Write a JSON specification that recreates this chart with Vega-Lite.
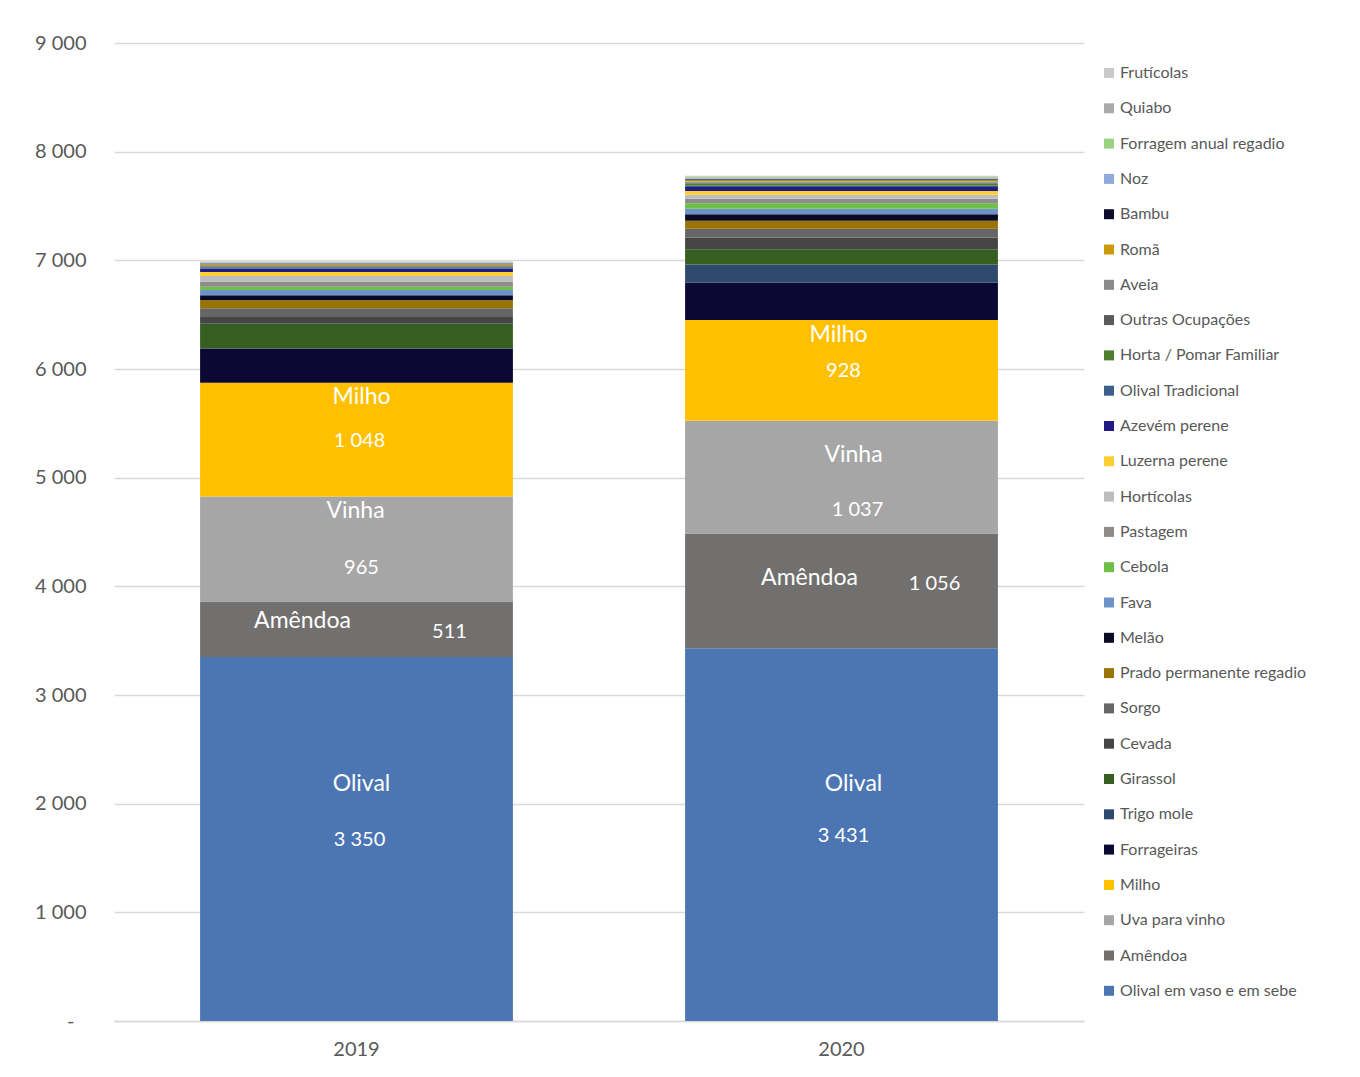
{
  "$schema": "https://vega.github.io/schema/vega-lite/v6.json",
  "width": 970,
  "height": 978,
  "autosize": {"type": "none"},
  "padding": {"left": 114, "top": 43, "right": 276, "bottom": 56},
  "background": "white",
  "config": {
    "view": {"stroke": null},
    "font": "Lato",
    "locale": {"number": {"decimal": ",", "thousands": " ", "grouping": [3], "currency": ["", " €"]}}
  },
  "data": {
    "values": [
      {"year": "2019", "crop": "Olival em vaso e em sebe", "ord": 1, "lbl": "Olival", "value": 3350},
      {"year": "2019", "crop": "Amêndoa", "ord": 2, "lbl": "Amêndoa", "value": 511},
      {"year": "2019", "crop": "Uva para vinho", "ord": 3, "lbl": "Vinha", "value": 965},
      {"year": "2019", "crop": "Milho", "ord": 4, "lbl": "Milho", "value": 1048},
      {"year": "2019", "crop": "Forrageiras", "ord": 5, "lbl": "", "value": 315},
      {"year": "2019", "crop": "Trigo mole", "ord": 6, "lbl": "", "value": 3},
      {"year": "2019", "crop": "Girassol", "ord": 7, "lbl": "", "value": 225},
      {"year": "2019", "crop": "Cevada", "ord": 8, "lbl": "", "value": 61},
      {"year": "2019", "crop": "Sorgo", "ord": 9, "lbl": "", "value": 80},
      {"year": "2019", "crop": "Prado permanente regadio", "ord": 10, "lbl": "", "value": 74},
      {"year": "2019", "crop": "Melão", "ord": 11, "lbl": "", "value": 46},
      {"year": "2019", "crop": "Fava", "ord": 12, "lbl": "", "value": 49},
      {"year": "2019", "crop": "Cebola", "ord": 13, "lbl": "", "value": 31},
      {"year": "2019", "crop": "Pastagem", "ord": 14, "lbl": "", "value": 46},
      {"year": "2019", "crop": "Hortícolas", "ord": 15, "lbl": "", "value": 52},
      {"year": "2019", "crop": "Luzerna perene", "ord": 16, "lbl": "", "value": 37},
      {"year": "2019", "crop": "Azevém perene", "ord": 17, "lbl": "", "value": 31},
      {"year": "2019", "crop": "Olival Tradicional", "ord": 18, "lbl": "", "value": 12},
      {"year": "2019", "crop": "Horta / Pomar Familiar", "ord": 19, "lbl": "", "value": 8},
      {"year": "2019", "crop": "Outras Ocupações", "ord": 20, "lbl": "", "value": 8},
      {"year": "2019", "crop": "Aveia", "ord": 21, "lbl": "", "value": 6},
      {"year": "2019", "crop": "Romã", "ord": 22, "lbl": "", "value": 8},
      {"year": "2019", "crop": "Bambu", "ord": 23, "lbl": "", "value": 5},
      {"year": "2019", "crop": "Noz", "ord": 24, "lbl": "", "value": 6},
      {"year": "2019", "crop": "Forragem anual regadio", "ord": 25, "lbl": "", "value": 5},
      {"year": "2019", "crop": "Quiabo", "ord": 26, "lbl": "", "value": 4},
      {"year": "2019", "crop": "Frutícolas", "ord": 27, "lbl": "", "value": 4},
      {"year": "2020", "crop": "Olival em vaso e em sebe", "ord": 1, "lbl": "Olival", "value": 3431},
      {"year": "2020", "crop": "Amêndoa", "ord": 2, "lbl": "Amêndoa", "value": 1056},
      {"year": "2020", "crop": "Uva para vinho", "ord": 3, "lbl": "Vinha", "value": 1037},
      {"year": "2020", "crop": "Milho", "ord": 4, "lbl": "Milho", "value": 928},
      {"year": "2020", "crop": "Forrageiras", "ord": 5, "lbl": "", "value": 344},
      {"year": "2020", "crop": "Trigo mole", "ord": 6, "lbl": "", "value": 166},
      {"year": "2020", "crop": "Girassol", "ord": 7, "lbl": "", "value": 141},
      {"year": "2020", "crop": "Cevada", "ord": 8, "lbl": "", "value": 107},
      {"year": "2020", "crop": "Sorgo", "ord": 9, "lbl": "", "value": 80},
      {"year": "2020", "crop": "Prado permanente regadio", "ord": 10, "lbl": "", "value": 74},
      {"year": "2020", "crop": "Melão", "ord": 11, "lbl": "", "value": 61},
      {"year": "2020", "crop": "Fava", "ord": 12, "lbl": "", "value": 49},
      {"year": "2020", "crop": "Cebola", "ord": 13, "lbl": "", "value": 52},
      {"year": "2020", "crop": "Pastagem", "ord": 14, "lbl": "", "value": 40},
      {"year": "2020", "crop": "Hortícolas", "ord": 15, "lbl": "", "value": 37},
      {"year": "2020", "crop": "Luzerna perene", "ord": 16, "lbl": "", "value": 34},
      {"year": "2020", "crop": "Azevém perene", "ord": 17, "lbl": "", "value": 37},
      {"year": "2020", "crop": "Olival Tradicional", "ord": 18, "lbl": "", "value": 12},
      {"year": "2020", "crop": "Horta / Pomar Familiar", "ord": 19, "lbl": "", "value": 20},
      {"year": "2020", "crop": "Outras Ocupações", "ord": 20, "lbl": "", "value": 10},
      {"year": "2020", "crop": "Aveia", "ord": 21, "lbl": "", "value": 10},
      {"year": "2020", "crop": "Romã", "ord": 22, "lbl": "", "value": 12},
      {"year": "2020", "crop": "Bambu", "ord": 23, "lbl": "", "value": 8},
      {"year": "2020", "crop": "Noz", "ord": 24, "lbl": "", "value": 10},
      {"year": "2020", "crop": "Forragem anual regadio", "ord": 25, "lbl": "", "value": 8},
      {"year": "2020", "crop": "Quiabo", "ord": 26, "lbl": "", "value": 8},
      {"year": "2020", "crop": "Frutícolas", "ord": 27, "lbl": "", "value": 7}
    ]
  },
  "layer": [
    {
      "mark": {"type": "bar"},
      "encoding": {
        "x": {
          "field": "year", "type": "nominal",
          "scale": {"paddingInner": 0.355, "paddingOuter": 0.1775},
          "axis": {"title": null, "labelAngle": 0, "labelFontSize": 20, "labelColor": "#595959", "ticks": false, "domainColor": "#D9D9D9", "domainWidth": 1.5, "labelPadding": 18}
        },
        "y": {
          "field": "value", "type": "quantitative", "stack": "zero",
          "scale": {"domain": [0, 9000], "nice": false},
          "axis": {"title": null, "values": [0, 1000, 2000, 3000, 4000, 5000, 6000, 7000, 8000, 9000], "gridColor": "#D9D9D9", "gridWidth": 1.5, "domain": false, "ticks": false, "labelFontSize": 20, "labelColor": "#595959", "labelPadding": {"condition": {"test": "datum.value == 0", "value": 40}, "value": 28}, "labelExpr": "datum.value == 0 ? '-' : format(datum.value, ',.0f')"}
        },
        "color": {
          "field": "crop", "type": "nominal",
          "scale": {
            "domain": ["Frutícolas", "Quiabo", "Forragem anual regadio", "Noz", "Bambu", "Romã", "Aveia", "Outras Ocupações", "Horta / Pomar Familiar", "Olival Tradicional", "Azevém perene", "Luzerna perene", "Hortícolas", "Pastagem", "Cebola", "Fava", "Melão", "Prado permanente regadio", "Sorgo", "Cevada", "Girassol", "Trigo mole", "Forrageiras", "Milho", "Uva para vinho", "Amêndoa", "Olival em vaso e em sebe"],
            "range": ["#C9C9C9", "#AAAAAA", "#9BD27F", "#8FAADC", "#0C0C2C", "#CC9A06", "#8A8A8A", "#5A5A5A", "#4E7F30", "#3D5F8E", "#201A85", "#FFCE33", "#BDBDBD", "#8E8B8B", "#6CBF47", "#6D93C8", "#0A0A24", "#9A7300", "#666666", "#454545", "#375E21", "#2E4A6E", "#0B0833", "#FFC000", "#A6A6A6", "#71706E", "#4C76B3"]
          },
          "legend": {"title": null, "orient": "none", "legendX": 987, "legendY": 22, "symbolType": "square", "symbolSize": 100, "symbolStrokeWidth": 0, "labelFontSize": 16, "labelColor": "#595959", "rowPadding": 19.3, "labelOffset": 3, "labelLimit": 300, "symbolLimit": 40}
        },
        "order": {"field": "ord", "type": "quantitative"}
      }
    },
    {
      "transform": [
        {"filter": "datum.ord <= 4"},
        {"stack": "value", "groupby": ["year"], "sort": [{"field": "ord", "order": "ascending"}], "as": ["v0", "v1"]},
        {"fold": ["v0", "v1"], "as": ["k", "v"]}
      ],
      "layer": [
        {
          "transform": [{"filter": "datum.ord == 1"}],
          "mark": {"type": "text", "color": "white", "fontSize": 23, "baseline": "middle", "dx": {"expr": "datum.year === '2019' ? 5 : 12"}, "dy": {"expr": "datum.year === '2019' ? -55 : -51"}},
          "encoding": {"x": {"field": "year", "type": "nominal"}, "y": {"field": "v", "type": "quantitative", "aggregate": "mean", "title": null}, "text": {"field": "lbl", "type": "nominal"}}
        },
        {
          "transform": [{"filter": "datum.ord == 1"}],
          "mark": {"type": "text", "color": "white", "fontSize": 20, "baseline": "middle", "dx": {"expr": "datum.year === '2019' ? 3 : 2"}, "dy": 1},
          "encoding": {"x": {"field": "year", "type": "nominal"}, "y": {"field": "v", "type": "quantitative", "aggregate": "mean", "title": null}, "text": {"field": "value", "type": "quantitative", "format": ","}}
        },
        {
          "transform": [{"filter": "datum.ord == 2"}],
          "mark": {"type": "text", "color": "white", "fontSize": 23, "baseline": "middle", "dx": {"expr": "datum.year === '2019' ? -54 : -32"}, "dy": {"expr": "datum.year === '2019' ? -8 : -13"}},
          "encoding": {"x": {"field": "year", "type": "nominal"}, "y": {"field": "v", "type": "quantitative", "aggregate": "mean", "title": null}, "text": {"field": "lbl", "type": "nominal"}}
        },
        {
          "transform": [{"filter": "datum.ord == 2"}],
          "mark": {"type": "text", "color": "white", "fontSize": 20, "baseline": "middle", "dx": 93, "dy": {"expr": "datum.year === '2019' ? 3 : -7"}},
          "encoding": {"x": {"field": "year", "type": "nominal"}, "y": {"field": "v", "type": "quantitative", "aggregate": "mean", "title": null}, "text": {"field": "value", "type": "quantitative", "format": ","}}
        },
        {
          "transform": [{"filter": "datum.ord == 3"}],
          "mark": {"type": "text", "color": "white", "fontSize": 23, "baseline": "middle", "dx": {"expr": "datum.year === '2019' ? -1 : 12"}, "dy": {"expr": "datum.year === '2019' ? -38 : -22"}},
          "encoding": {"x": {"field": "year", "type": "nominal"}, "y": {"field": "v", "type": "quantitative", "aggregate": "mean", "title": null}, "text": {"field": "lbl", "type": "nominal"}}
        },
        {
          "transform": [{"filter": "datum.ord == 3"}],
          "mark": {"type": "text", "color": "white", "fontSize": 20, "baseline": "middle", "dx": {"expr": "datum.year === '2019' ? 5 : 16"}, "dy": {"expr": "datum.year === '2019' ? 19 : 33"}},
          "encoding": {"x": {"field": "year", "type": "nominal"}, "y": {"field": "v", "type": "quantitative", "aggregate": "mean", "title": null}, "text": {"field": "value", "type": "quantitative", "format": ","}}
        },
        {
          "transform": [{"filter": "datum.ord == 4"}],
          "mark": {"type": "text", "color": "white", "fontSize": 23, "baseline": "middle", "dx": {"expr": "datum.year === '2019' ? 5 : -3"}, "dy": {"expr": "datum.year === '2019' ? -43 : -35"}},
          "encoding": {"x": {"field": "year", "type": "nominal"}, "y": {"field": "v", "type": "quantitative", "aggregate": "mean", "title": null}, "text": {"field": "lbl", "type": "nominal"}}
        },
        {
          "transform": [{"filter": "datum.ord == 4"}],
          "mark": {"type": "text", "color": "white", "fontSize": 20, "baseline": "middle", "dx": {"expr": "datum.year === '2019' ? 3 : 2"}, "dy": 1},
          "encoding": {"x": {"field": "year", "type": "nominal"}, "y": {"field": "v", "type": "quantitative", "aggregate": "mean", "title": null}, "text": {"field": "value", "type": "quantitative", "format": ","}}
        }
      ]
    }
  ]
}
